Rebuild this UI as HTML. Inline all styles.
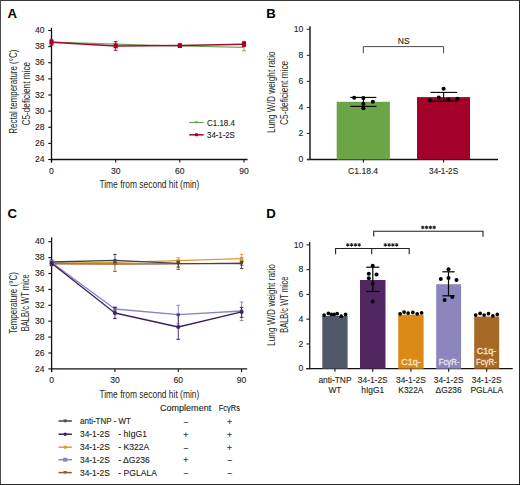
<!DOCTYPE html>
<html><head><meta charset="utf-8"><style>
html,body{margin:0;padding:0;background:#fff;}
#fig{position:relative;width:520px;height:485px;overflow:hidden;background:#fff;}
#frame{position:absolute;left:0;top:0;width:518px;height:483px;border:1px solid #333;border-left-color:#4a4a4a;border-top-color:#3a3a3a;border-right-color:#262626;border-bottom-color:#262626;pointer-events:none;}
svg{position:absolute;left:0;top:0;}
</style></head><body><div id="fig">
<svg width="520" height="485" viewBox="0 0 520 485" font-family='"Liberation Sans", sans-serif'>
<text x="7.60" y="17.80" font-size="13.2" text-anchor="start" fill="#000" font-weight="bold" >A</text>
<line x1="51.50" y1="27.70" x2="51.50" y2="162.50" stroke="#111" stroke-width="1.3" />
<line x1="50.90" y1="159.50" x2="247.60" y2="159.50" stroke="#111" stroke-width="1.3" />
<line x1="48.20" y1="159.50" x2="51.50" y2="159.50" stroke="#111" stroke-width="1.1" />
<text x="44.60" y="162.10" font-size="8.6" text-anchor="end" fill="#231f20" stroke="#231f20" stroke-width="0.12" >24</text>
<line x1="48.20" y1="143.38" x2="51.50" y2="143.38" stroke="#111" stroke-width="1.1" />
<text x="44.60" y="145.97" font-size="8.6" text-anchor="end" fill="#231f20" stroke="#231f20" stroke-width="0.12" >26</text>
<line x1="48.20" y1="127.25" x2="51.50" y2="127.25" stroke="#111" stroke-width="1.1" />
<text x="44.60" y="129.85" font-size="8.6" text-anchor="end" fill="#231f20" stroke="#231f20" stroke-width="0.12" >28</text>
<line x1="48.20" y1="111.12" x2="51.50" y2="111.12" stroke="#111" stroke-width="1.1" />
<text x="44.60" y="113.72" font-size="8.6" text-anchor="end" fill="#231f20" stroke="#231f20" stroke-width="0.12" >30</text>
<line x1="48.20" y1="95.00" x2="51.50" y2="95.00" stroke="#111" stroke-width="1.1" />
<text x="44.60" y="97.60" font-size="8.6" text-anchor="end" fill="#231f20" stroke="#231f20" stroke-width="0.12" >32</text>
<line x1="48.20" y1="78.88" x2="51.50" y2="78.88" stroke="#111" stroke-width="1.1" />
<text x="44.60" y="81.47" font-size="8.6" text-anchor="end" fill="#231f20" stroke="#231f20" stroke-width="0.12" >34</text>
<line x1="48.20" y1="62.75" x2="51.50" y2="62.75" stroke="#111" stroke-width="1.1" />
<text x="44.60" y="65.35" font-size="8.6" text-anchor="end" fill="#231f20" stroke="#231f20" stroke-width="0.12" >36</text>
<line x1="48.20" y1="46.62" x2="51.50" y2="46.62" stroke="#111" stroke-width="1.1" />
<text x="44.60" y="49.23" font-size="8.6" text-anchor="end" fill="#231f20" stroke="#231f20" stroke-width="0.12" >38</text>
<line x1="48.20" y1="30.50" x2="51.50" y2="30.50" stroke="#111" stroke-width="1.1" />
<text x="44.60" y="33.10" font-size="8.6" text-anchor="end" fill="#231f20" stroke="#231f20" stroke-width="0.12" >40</text>
<line x1="51.50" y1="159.50" x2="51.50" y2="162.50" stroke="#111" stroke-width="1.1" />
<text x="51.50" y="173.60" font-size="8.6" text-anchor="middle" fill="#231f20" stroke="#231f20" stroke-width="0.12" >0</text>
<line x1="115.67" y1="159.50" x2="115.67" y2="162.50" stroke="#111" stroke-width="1.1" />
<text x="115.67" y="173.60" font-size="8.6" text-anchor="middle" fill="#231f20" stroke="#231f20" stroke-width="0.12" >30</text>
<line x1="179.83" y1="159.50" x2="179.83" y2="162.50" stroke="#111" stroke-width="1.1" />
<text x="179.83" y="173.60" font-size="8.6" text-anchor="middle" fill="#231f20" stroke="#231f20" stroke-width="0.12" >60</text>
<line x1="244.00" y1="159.50" x2="244.00" y2="162.50" stroke="#111" stroke-width="1.1" />
<text x="244.00" y="173.60" font-size="8.6" text-anchor="middle" fill="#231f20" stroke="#231f20" stroke-width="0.12" >90</text>
<text x="99.40" y="188.30" font-size="10.2" text-anchor="start" fill="#231f20" textLength="99.90" lengthAdjust="spacingAndGlyphs" >Time from second hit (min)</text>
<text x="17.30" y="133.70" font-size="11.2" text-anchor="start" fill="#231f20" textLength="84.00" lengthAdjust="spacingAndGlyphs" transform="rotate(-90 17.30 133.70)" >Rectal temperature (°C)</text>
<text x="29.60" y="125.50" font-size="11.2" text-anchor="start" fill="#231f20" textLength="63.70" lengthAdjust="spacingAndGlyphs" transform="rotate(-90 29.60 125.50)" >C5-deficient mice</text>
<polyline points="51.50,42.00 115.67,44.20 179.83,46.00 244.00,47.30" fill="none" stroke="#6ea656" stroke-width="1.2" stroke-linejoin="round"/>
<line x1="51.50" y1="40.50" x2="51.50" y2="43.50" stroke="#6ea656" stroke-width="0.9" />
<line x1="49.70" y1="40.50" x2="53.30" y2="40.50" stroke="#6ea656" stroke-width="0.9" />
<line x1="49.70" y1="43.50" x2="53.30" y2="43.50" stroke="#6ea656" stroke-width="0.9" />
<line x1="115.67" y1="43.00" x2="115.67" y2="45.40" stroke="#6ea656" stroke-width="0.9" />
<line x1="113.87" y1="43.00" x2="117.47" y2="43.00" stroke="#6ea656" stroke-width="0.9" />
<line x1="113.87" y1="45.40" x2="117.47" y2="45.40" stroke="#6ea656" stroke-width="0.9" />
<line x1="179.83" y1="45.20" x2="179.83" y2="46.80" stroke="#6ea656" stroke-width="0.9" />
<line x1="178.03" y1="45.20" x2="181.63" y2="45.20" stroke="#6ea656" stroke-width="0.9" />
<line x1="178.03" y1="46.80" x2="181.63" y2="46.80" stroke="#6ea656" stroke-width="0.9" />
<line x1="244.00" y1="45.70" x2="244.00" y2="50.80" stroke="#6ea656" stroke-width="0.9" />
<line x1="242.20" y1="45.70" x2="245.80" y2="45.70" stroke="#6ea656" stroke-width="0.9" />
<line x1="242.20" y1="50.80" x2="245.80" y2="50.80" stroke="#6ea656" stroke-width="0.9" />
<polyline points="51.50,42.30 115.67,45.90 179.83,45.60 244.00,44.20" fill="none" stroke="#9e0a2c" stroke-width="1.5" stroke-linejoin="round"/>
<line x1="51.50" y1="39.30" x2="51.50" y2="45.30" stroke="#a5002a" stroke-width="0.9" />
<line x1="49.70" y1="39.30" x2="53.30" y2="39.30" stroke="#a5002a" stroke-width="0.9" />
<line x1="49.70" y1="45.30" x2="53.30" y2="45.30" stroke="#a5002a" stroke-width="0.9" />
<line x1="115.67" y1="41.50" x2="115.67" y2="50.40" stroke="#a5002a" stroke-width="0.9" />
<line x1="113.87" y1="41.50" x2="117.47" y2="41.50" stroke="#a5002a" stroke-width="0.9" />
<line x1="113.87" y1="50.40" x2="117.47" y2="50.40" stroke="#a5002a" stroke-width="0.9" />
<line x1="179.83" y1="44.30" x2="179.83" y2="46.90" stroke="#a5002a" stroke-width="0.9" />
<line x1="178.03" y1="44.30" x2="181.63" y2="44.30" stroke="#a5002a" stroke-width="0.9" />
<line x1="178.03" y1="46.90" x2="181.63" y2="46.90" stroke="#a5002a" stroke-width="0.9" />
<line x1="244.00" y1="41.40" x2="244.00" y2="46.40" stroke="#a5002a" stroke-width="0.9" />
<line x1="242.20" y1="41.40" x2="245.80" y2="41.40" stroke="#a5002a" stroke-width="0.9" />
<line x1="242.20" y1="46.40" x2="245.80" y2="46.40" stroke="#a5002a" stroke-width="0.9" />
<rect x="49.40" y="39.90" width="4.20" height="4.80" fill="#a5002a"/>
<rect x="113.57" y="43.50" width="4.20" height="4.80" fill="#a5002a"/>
<rect x="177.73" y="43.20" width="4.20" height="4.80" fill="#a5002a"/>
<rect x="241.90" y="41.80" width="4.20" height="4.80" fill="#a5002a"/>
<line x1="189.20" y1="122.50" x2="203.70" y2="122.50" stroke="#6ea656" stroke-width="1.3" />
<path d="M194.8,121.3 L198.2,121.3 L196.5,123.8 Z" fill="#6ea656"/>
<text x="207.10" y="125.70" font-size="8.6" text-anchor="start" fill="#231f20" textLength="27.70" lengthAdjust="spacingAndGlyphs" stroke="#231f20" stroke-width="0.12" >C1.18.4</text>
<line x1="189.20" y1="134.80" x2="203.70" y2="134.80" stroke="#a5002a" stroke-width="1.5" />
<circle cx="196.50" cy="134.80" r="1.8" fill="#a5002a"/>
<text x="207.10" y="138.00" font-size="8.6" text-anchor="start" fill="#231f20" textLength="27.70" lengthAdjust="spacingAndGlyphs" stroke="#231f20" stroke-width="0.12" >34-1-2S</text>
<text x="266.30" y="17.90" font-size="13.2" text-anchor="start" fill="#000" font-weight="bold" >B</text>
<line x1="310.00" y1="26.20" x2="310.00" y2="159.50" stroke="#3a3a3a" stroke-width="1.7" />
<line x1="307.00" y1="159.50" x2="498.00" y2="159.50" stroke="#111" stroke-width="1.3" />
<line x1="306.80" y1="159.50" x2="310.00" y2="159.50" stroke="#333" stroke-width="1.1" />
<text x="303.40" y="162.10" font-size="8.6" text-anchor="end" fill="#231f20" stroke="#231f20" stroke-width="0.12" >0</text>
<line x1="306.80" y1="133.46" x2="310.00" y2="133.46" stroke="#333" stroke-width="1.1" />
<text x="303.40" y="136.06" font-size="8.6" text-anchor="end" fill="#231f20" stroke="#231f20" stroke-width="0.12" >2</text>
<line x1="306.80" y1="107.42" x2="310.00" y2="107.42" stroke="#333" stroke-width="1.1" />
<text x="303.40" y="110.02" font-size="8.6" text-anchor="end" fill="#231f20" stroke="#231f20" stroke-width="0.12" >4</text>
<line x1="306.80" y1="81.38" x2="310.00" y2="81.38" stroke="#333" stroke-width="1.1" />
<text x="303.40" y="83.98" font-size="8.6" text-anchor="end" fill="#231f20" stroke="#231f20" stroke-width="0.12" >6</text>
<line x1="306.80" y1="55.34" x2="310.00" y2="55.34" stroke="#333" stroke-width="1.1" />
<text x="303.40" y="57.94" font-size="8.6" text-anchor="end" fill="#231f20" stroke="#231f20" stroke-width="0.12" >8</text>
<line x1="306.80" y1="29.30" x2="310.00" y2="29.30" stroke="#333" stroke-width="1.1" />
<text x="303.40" y="31.90" font-size="8.6" text-anchor="end" fill="#231f20" stroke="#231f20" stroke-width="0.12" >10</text>
<rect x="336.70" y="101.80" width="53.20" height="57.70" fill="#6ba545"/>
<rect x="417.00" y="97.10" width="53.00" height="62.40" fill="#a5002a"/>
<line x1="363.40" y1="159.50" x2="363.40" y2="162.50" stroke="#111" stroke-width="1.1" />
<line x1="443.60" y1="159.50" x2="443.60" y2="162.50" stroke="#111" stroke-width="1.1" />
<text x="363.10" y="173.60" font-size="8.6" text-anchor="middle" fill="#231f20" textLength="30.00" lengthAdjust="spacingAndGlyphs" stroke="#231f20" stroke-width="0.12" >C1.18.4</text>
<text x="443.60" y="173.60" font-size="8.6" text-anchor="middle" fill="#231f20" textLength="29.00" lengthAdjust="spacingAndGlyphs" stroke="#231f20" stroke-width="0.12" >34-1-2S</text>
<path d="M363.3,53.2 V46.6 H443.6 V53.2" fill="none" stroke="#333" stroke-width="0.9"/>
<text x="403.70" y="43.70" font-size="8.6" text-anchor="middle" fill="#231f20" stroke="#231f20" stroke-width="0.12" >NS</text>
<line x1="363.40" y1="97.40" x2="363.40" y2="106.40" stroke="#000" stroke-width="1.1" />
<line x1="350.20" y1="97.40" x2="376.40" y2="97.40" stroke="#000" stroke-width="1.1" />
<line x1="350.20" y1="106.40" x2="376.40" y2="106.40" stroke="#000" stroke-width="1.1" />
<circle cx="354.20" cy="97.80" r="2.05" fill="#000"/>
<circle cx="363.40" cy="98.10" r="2.05" fill="#000"/>
<circle cx="372.80" cy="101.80" r="2.05" fill="#000"/>
<circle cx="363.40" cy="103.90" r="2.05" fill="#000"/>
<circle cx="363.40" cy="108.20" r="2.05" fill="#000"/>
<line x1="443.60" y1="92.40" x2="443.60" y2="101.10" stroke="#000" stroke-width="1.1" />
<line x1="430.50" y1="92.40" x2="457.10" y2="92.40" stroke="#000" stroke-width="1.1" />
<line x1="430.50" y1="101.10" x2="457.10" y2="101.10" stroke="#000" stroke-width="1.1" />
<circle cx="443.60" cy="88.70" r="2.05" fill="#000"/>
<circle cx="429.90" cy="100.20" r="2.05" fill="#000"/>
<circle cx="438.70" cy="97.50" r="2.05" fill="#000"/>
<circle cx="448.40" cy="99.50" r="2.05" fill="#000"/>
<circle cx="457.40" cy="98.80" r="2.05" fill="#000"/>
<text x="275.10" y="132.90" font-size="11.2" text-anchor="start" fill="#231f20" textLength="81.50" lengthAdjust="spacingAndGlyphs" transform="rotate(-90 275.10 132.90)" >Lung W/D weight ratio</text>
<text x="287.90" y="124.90" font-size="11.2" text-anchor="start" fill="#231f20" textLength="64.10" lengthAdjust="spacingAndGlyphs" transform="rotate(-90 287.90 124.90)" >C5-deficient mice</text>
<text x="7.60" y="218.10" font-size="13.2" text-anchor="start" fill="#000" font-weight="bold" >C</text>
<line x1="51.60" y1="237.40" x2="51.60" y2="371.90" stroke="#111" stroke-width="1.3" />
<line x1="51.00" y1="368.90" x2="247.20" y2="368.90" stroke="#111" stroke-width="1.3" />
<line x1="48.30" y1="368.90" x2="51.60" y2="368.90" stroke="#111" stroke-width="1.1" />
<text x="44.60" y="371.50" font-size="8.6" text-anchor="end" fill="#231f20" stroke="#231f20" stroke-width="0.12" >24</text>
<line x1="48.30" y1="353.00" x2="51.60" y2="353.00" stroke="#111" stroke-width="1.1" />
<text x="44.60" y="355.60" font-size="8.6" text-anchor="end" fill="#231f20" stroke="#231f20" stroke-width="0.12" >26</text>
<line x1="48.30" y1="337.10" x2="51.60" y2="337.10" stroke="#111" stroke-width="1.1" />
<text x="44.60" y="339.70" font-size="8.6" text-anchor="end" fill="#231f20" stroke="#231f20" stroke-width="0.12" >28</text>
<line x1="48.30" y1="321.20" x2="51.60" y2="321.20" stroke="#111" stroke-width="1.1" />
<text x="44.60" y="323.80" font-size="8.6" text-anchor="end" fill="#231f20" stroke="#231f20" stroke-width="0.12" >30</text>
<line x1="48.30" y1="305.30" x2="51.60" y2="305.30" stroke="#111" stroke-width="1.1" />
<text x="44.60" y="307.90" font-size="8.6" text-anchor="end" fill="#231f20" stroke="#231f20" stroke-width="0.12" >32</text>
<line x1="48.30" y1="289.40" x2="51.60" y2="289.40" stroke="#111" stroke-width="1.1" />
<text x="44.60" y="292.00" font-size="8.6" text-anchor="end" fill="#231f20" stroke="#231f20" stroke-width="0.12" >34</text>
<line x1="48.30" y1="273.50" x2="51.60" y2="273.50" stroke="#111" stroke-width="1.1" />
<text x="44.60" y="276.10" font-size="8.6" text-anchor="end" fill="#231f20" stroke="#231f20" stroke-width="0.12" >36</text>
<line x1="48.30" y1="257.60" x2="51.60" y2="257.60" stroke="#111" stroke-width="1.1" />
<text x="44.60" y="260.20" font-size="8.6" text-anchor="end" fill="#231f20" stroke="#231f20" stroke-width="0.12" >38</text>
<line x1="48.30" y1="241.70" x2="51.60" y2="241.70" stroke="#111" stroke-width="1.1" />
<text x="44.60" y="244.30" font-size="8.6" text-anchor="end" fill="#231f20" stroke="#231f20" stroke-width="0.12" >40</text>
<line x1="51.60" y1="368.90" x2="51.60" y2="371.90" stroke="#111" stroke-width="1.1" />
<text x="51.60" y="382.60" font-size="8.6" text-anchor="middle" fill="#231f20" stroke="#231f20" stroke-width="0.12" >0</text>
<line x1="114.93" y1="368.90" x2="114.93" y2="371.90" stroke="#111" stroke-width="1.1" />
<text x="114.93" y="382.60" font-size="8.6" text-anchor="middle" fill="#231f20" stroke="#231f20" stroke-width="0.12" >30</text>
<line x1="178.27" y1="368.90" x2="178.27" y2="371.90" stroke="#111" stroke-width="1.1" />
<text x="178.27" y="382.60" font-size="8.6" text-anchor="middle" fill="#231f20" stroke="#231f20" stroke-width="0.12" >60</text>
<line x1="241.60" y1="368.90" x2="241.60" y2="371.90" stroke="#111" stroke-width="1.1" />
<text x="241.60" y="382.60" font-size="8.6" text-anchor="middle" fill="#231f20" stroke="#231f20" stroke-width="0.12" >90</text>
<text x="99.40" y="397.50" font-size="10.2" text-anchor="start" fill="#231f20" textLength="99.90" lengthAdjust="spacingAndGlyphs" >Time from second hit (min)</text>
<text x="16.80" y="333.80" font-size="11.2" text-anchor="start" fill="#231f20" textLength="61.70" lengthAdjust="spacingAndGlyphs" transform="rotate(-90 16.80 333.80)" >Temperature (°C)</text>
<text x="29.20" y="331.30" font-size="11.2" text-anchor="start" fill="#231f20" textLength="57.00" lengthAdjust="spacingAndGlyphs" transform="rotate(-90 29.20 331.30)" >BALB/c WT mice</text>
<polyline points="51.60,263.20 114.93,262.40 178.27,260.70 241.60,258.60" fill="none" stroke="#e09a30" stroke-width="1.3" stroke-linejoin="round"/>
<line x1="51.60" y1="261.20" x2="51.60" y2="265.20" stroke="#e09a30" stroke-width="0.9" />
<line x1="49.80" y1="261.20" x2="53.40" y2="261.20" stroke="#e09a30" stroke-width="1.0" />
<line x1="49.80" y1="265.20" x2="53.40" y2="265.20" stroke="#e09a30" stroke-width="1.0" />
<line x1="114.93" y1="260.40" x2="114.93" y2="264.40" stroke="#e09a30" stroke-width="0.9" />
<line x1="113.13" y1="260.40" x2="116.73" y2="260.40" stroke="#e09a30" stroke-width="1.0" />
<line x1="113.13" y1="264.40" x2="116.73" y2="264.40" stroke="#e09a30" stroke-width="1.0" />
<line x1="178.27" y1="257.70" x2="178.27" y2="262.70" stroke="#e09a30" stroke-width="0.9" />
<line x1="176.47" y1="257.70" x2="180.07" y2="257.70" stroke="#e09a30" stroke-width="1.0" />
<line x1="176.47" y1="262.70" x2="180.07" y2="262.70" stroke="#e09a30" stroke-width="1.0" />
<line x1="241.60" y1="254.30" x2="241.60" y2="260.60" stroke="#e09a30" stroke-width="0.9" />
<line x1="239.80" y1="254.30" x2="243.40" y2="254.30" stroke="#e09a30" stroke-width="1.0" />
<line x1="239.80" y1="260.60" x2="243.40" y2="260.60" stroke="#e09a30" stroke-width="1.0" />
<rect x="49.90" y="261.50" width="3.40" height="3.40" fill="#e09a30"/>
<rect x="113.23" y="260.70" width="3.40" height="3.40" fill="#e09a30"/>
<rect x="176.57" y="259.00" width="3.40" height="3.40" fill="#e09a30"/>
<rect x="239.90" y="256.90" width="3.40" height="3.40" fill="#e09a30"/>
<polyline points="51.60,263.80 114.93,264.00 178.27,263.80 241.60,263.20" fill="none" stroke="#93602a" stroke-width="1.3" stroke-linejoin="round"/>
<line x1="51.60" y1="261.80" x2="51.60" y2="265.80" stroke="#93602a" stroke-width="0.9" />
<line x1="49.80" y1="261.80" x2="53.40" y2="261.80" stroke="#93602a" stroke-width="1.0" />
<line x1="49.80" y1="265.80" x2="53.40" y2="265.80" stroke="#93602a" stroke-width="1.0" />
<line x1="114.93" y1="262.00" x2="114.93" y2="271.40" stroke="#93602a" stroke-width="0.9" />
<line x1="113.13" y1="262.00" x2="116.73" y2="262.00" stroke="#93602a" stroke-width="1.0" />
<line x1="113.13" y1="271.40" x2="116.73" y2="271.40" stroke="#93602a" stroke-width="1.0" />
<line x1="178.27" y1="261.80" x2="178.27" y2="269.40" stroke="#93602a" stroke-width="0.9" />
<line x1="176.47" y1="261.80" x2="180.07" y2="261.80" stroke="#93602a" stroke-width="1.0" />
<line x1="176.47" y1="269.40" x2="180.07" y2="269.40" stroke="#93602a" stroke-width="1.0" />
<line x1="241.60" y1="261.20" x2="241.60" y2="265.20" stroke="#93602a" stroke-width="0.9" />
<line x1="239.80" y1="261.20" x2="243.40" y2="261.20" stroke="#93602a" stroke-width="1.0" />
<line x1="239.80" y1="265.20" x2="243.40" y2="265.20" stroke="#93602a" stroke-width="1.0" />
<path d="M49.80,262.60 L53.40,262.60 L51.60,265.60 Z" fill="#93602a"/>
<path d="M113.13,262.80 L116.73,262.80 L114.93,265.80 Z" fill="#93602a"/>
<path d="M176.47,262.60 L180.07,262.60 L178.27,265.60 Z" fill="#93602a"/>
<path d="M239.80,262.00 L243.40,262.00 L241.60,265.00 Z" fill="#93602a"/>
<polyline points="51.60,262.00 114.93,260.30 178.27,263.30 241.60,263.60" fill="none" stroke="#3e4452" stroke-width="1.3" stroke-linejoin="round"/>
<line x1="51.60" y1="260.00" x2="51.60" y2="264.00" stroke="#3e4452" stroke-width="0.9" />
<line x1="49.80" y1="260.00" x2="53.40" y2="260.00" stroke="#3e4452" stroke-width="1.0" />
<line x1="49.80" y1="264.00" x2="53.40" y2="264.00" stroke="#3e4452" stroke-width="1.0" />
<line x1="114.93" y1="254.40" x2="114.93" y2="262.30" stroke="#3e4452" stroke-width="0.9" />
<line x1="113.13" y1="254.40" x2="116.73" y2="254.40" stroke="#3e4452" stroke-width="1.0" />
<line x1="113.13" y1="262.30" x2="116.73" y2="262.30" stroke="#3e4452" stroke-width="1.0" />
<line x1="178.27" y1="261.30" x2="178.27" y2="267.10" stroke="#3e4452" stroke-width="0.9" />
<line x1="176.47" y1="261.30" x2="180.07" y2="261.30" stroke="#3e4452" stroke-width="1.0" />
<line x1="176.47" y1="267.10" x2="180.07" y2="267.10" stroke="#3e4452" stroke-width="1.0" />
<line x1="241.60" y1="261.60" x2="241.60" y2="268.50" stroke="#3e4452" stroke-width="0.9" />
<line x1="239.80" y1="261.60" x2="243.40" y2="261.60" stroke="#3e4452" stroke-width="1.0" />
<line x1="239.80" y1="268.50" x2="243.40" y2="268.50" stroke="#3e4452" stroke-width="1.0" />
<path d="M49.80,260.80 L53.40,260.80 L51.60,263.80 Z" fill="#3e4452"/>
<path d="M113.13,259.10 L116.73,259.10 L114.93,262.10 Z" fill="#3e4452"/>
<path d="M176.47,262.10 L180.07,262.10 L178.27,265.10 Z" fill="#3e4452"/>
<path d="M239.80,262.40 L243.40,262.40 L241.60,265.40 Z" fill="#3e4452"/>
<polyline points="51.60,262.50 114.93,309.00 178.27,314.60 241.60,311.00" fill="none" stroke="#8a82c2" stroke-width="1.3" stroke-linejoin="round"/>
<line x1="51.60" y1="260.50" x2="51.60" y2="264.50" stroke="#8a82c2" stroke-width="0.9" />
<line x1="49.80" y1="260.50" x2="53.40" y2="260.50" stroke="#8a82c2" stroke-width="1.0" />
<line x1="49.80" y1="264.50" x2="53.40" y2="264.50" stroke="#8a82c2" stroke-width="1.0" />
<line x1="114.93" y1="307.00" x2="114.93" y2="311.00" stroke="#8a82c2" stroke-width="0.9" />
<line x1="113.13" y1="307.00" x2="116.73" y2="307.00" stroke="#8a82c2" stroke-width="1.0" />
<line x1="113.13" y1="311.00" x2="116.73" y2="311.00" stroke="#8a82c2" stroke-width="1.0" />
<line x1="178.27" y1="305.30" x2="178.27" y2="323.90" stroke="#8a82c2" stroke-width="0.9" />
<line x1="176.47" y1="305.30" x2="180.07" y2="305.30" stroke="#8a82c2" stroke-width="1.0" />
<line x1="176.47" y1="323.90" x2="180.07" y2="323.90" stroke="#8a82c2" stroke-width="1.0" />
<line x1="241.60" y1="302.00" x2="241.60" y2="320.60" stroke="#8a82c2" stroke-width="0.9" />
<line x1="239.80" y1="302.00" x2="243.40" y2="302.00" stroke="#8a82c2" stroke-width="1.0" />
<line x1="239.80" y1="320.60" x2="243.40" y2="320.60" stroke="#8a82c2" stroke-width="1.0" />
<rect x="49.90" y="260.80" width="3.40" height="3.40" fill="#8a82c2"/>
<rect x="113.23" y="307.30" width="3.40" height="3.40" fill="#8a82c2"/>
<rect x="176.57" y="312.90" width="3.40" height="3.40" fill="#8a82c2"/>
<rect x="239.90" y="309.30" width="3.40" height="3.40" fill="#8a82c2"/>
<polyline points="51.60,263.30 114.93,313.00 178.27,327.00 241.60,311.90" fill="none" stroke="#3c2162" stroke-width="1.3" stroke-linejoin="round"/>
<line x1="51.60" y1="261.30" x2="51.60" y2="265.30" stroke="#3c2162" stroke-width="0.9" />
<line x1="49.80" y1="261.30" x2="53.40" y2="261.30" stroke="#3c2162" stroke-width="1.0" />
<line x1="49.80" y1="265.30" x2="53.40" y2="265.30" stroke="#3c2162" stroke-width="1.0" />
<line x1="114.93" y1="307.40" x2="114.93" y2="318.60" stroke="#3c2162" stroke-width="0.9" />
<line x1="113.13" y1="307.40" x2="116.73" y2="307.40" stroke="#3c2162" stroke-width="1.0" />
<line x1="113.13" y1="318.60" x2="116.73" y2="318.60" stroke="#3c2162" stroke-width="1.0" />
<line x1="178.27" y1="314.70" x2="178.27" y2="339.30" stroke="#3c2162" stroke-width="0.9" />
<line x1="176.47" y1="314.70" x2="180.07" y2="314.70" stroke="#3c2162" stroke-width="1.0" />
<line x1="176.47" y1="339.30" x2="180.07" y2="339.30" stroke="#3c2162" stroke-width="1.0" />
<line x1="241.60" y1="307.40" x2="241.60" y2="317.30" stroke="#3c2162" stroke-width="0.9" />
<line x1="239.80" y1="307.40" x2="243.40" y2="307.40" stroke="#3c2162" stroke-width="1.0" />
<line x1="239.80" y1="317.30" x2="243.40" y2="317.30" stroke="#3c2162" stroke-width="1.0" />
<circle cx="51.60" cy="263.30" r="2.0" fill="#3c2162"/>
<circle cx="114.93" cy="313.00" r="2.0" fill="#3c2162"/>
<circle cx="178.27" cy="327.00" r="2.0" fill="#3c2162"/>
<circle cx="241.60" cy="311.90" r="2.0" fill="#3c2162"/>
<text x="160.00" y="411.10" font-size="8.4" text-anchor="start" fill="#231f20" textLength="51.20" lengthAdjust="spacingAndGlyphs" stroke="#231f20" stroke-width="0.12" >Complement</text>
<text x="218.80" y="411.10" font-size="8.4" text-anchor="start" fill="#231f20" textLength="21.20" lengthAdjust="spacingAndGlyphs" stroke="#231f20" stroke-width="0.12" >FcγRs</text>
<line x1="58.50" y1="421.00" x2="71.90" y2="421.00" stroke="#3e4452" stroke-width="1.5" />
<path d="M63.3,419.40 L67.1,419.40 L65.2,422.90 Z" fill="#3e4452"/>
<text x="80.00" y="424.20" font-size="8.6" text-anchor="start" fill="#231f20" textLength="51.00" lengthAdjust="spacingAndGlyphs" stroke="#231f20" stroke-width="0.12" >anti-TNP - WT</text>
<text x="185.80" y="424.50" font-size="8.6" text-anchor="middle" fill="#231f20" stroke="#231f20" stroke-width="0.12" >−</text>
<text x="229.40" y="424.50" font-size="8.6" text-anchor="middle" fill="#231f20" stroke="#231f20" stroke-width="0.12" >+</text>
<line x1="58.50" y1="434.20" x2="71.90" y2="434.20" stroke="#3c2162" stroke-width="1.5" />
<circle cx="65.20" cy="434.20" r="1.7" fill="#3c2162"/>
<text x="80.00" y="437.40" font-size="8.6" text-anchor="start" fill="#231f20" textLength="29.80" lengthAdjust="spacingAndGlyphs" stroke="#231f20" stroke-width="0.12" >34-1-2S</text>
<text x="118.30" y="437.40" font-size="8.6" text-anchor="start" fill="#231f20" stroke="#231f20" stroke-width="0.12" >- hIgG1</text>
<text x="185.80" y="437.70" font-size="8.6" text-anchor="middle" fill="#231f20" stroke="#231f20" stroke-width="0.12" >+</text>
<text x="229.40" y="437.70" font-size="8.6" text-anchor="middle" fill="#231f20" stroke="#231f20" stroke-width="0.12" >+</text>
<line x1="58.50" y1="447.20" x2="71.90" y2="447.20" stroke="#e09a30" stroke-width="1.5" />
<circle cx="65.20" cy="447.20" r="1.7" fill="#e09a30"/>
<text x="80.00" y="450.40" font-size="8.6" text-anchor="start" fill="#231f20" textLength="29.80" lengthAdjust="spacingAndGlyphs" stroke="#231f20" stroke-width="0.12" >34-1-2S</text>
<text x="118.30" y="450.40" font-size="8.6" text-anchor="start" fill="#231f20" stroke="#231f20" stroke-width="0.12" >- K322A</text>
<text x="185.80" y="450.70" font-size="8.6" text-anchor="middle" fill="#231f20" stroke="#231f20" stroke-width="0.12" >−</text>
<text x="229.40" y="450.70" font-size="8.6" text-anchor="middle" fill="#231f20" stroke="#231f20" stroke-width="0.12" >+</text>
<line x1="58.50" y1="459.70" x2="71.90" y2="459.70" stroke="#8a82c2" stroke-width="1.5" />
<rect x="63.20" y="457.70" width="4.00" height="4.00" fill="#8a82c2"/>
<text x="80.00" y="462.90" font-size="8.6" text-anchor="start" fill="#231f20" textLength="29.80" lengthAdjust="spacingAndGlyphs" stroke="#231f20" stroke-width="0.12" >34-1-2S</text>
<text x="118.30" y="462.90" font-size="8.6" text-anchor="start" fill="#231f20" stroke="#231f20" stroke-width="0.12" >- ΔG236</text>
<text x="185.80" y="463.20" font-size="8.6" text-anchor="middle" fill="#231f20" stroke="#231f20" stroke-width="0.12" >+</text>
<text x="229.40" y="463.20" font-size="8.6" text-anchor="middle" fill="#231f20" stroke="#231f20" stroke-width="0.12" >−</text>
<line x1="58.50" y1="472.60" x2="71.90" y2="472.60" stroke="#93602a" stroke-width="1.5" />
<path d="M63.3,471.00 L67.1,471.00 L65.2,474.50 Z" fill="#93602a"/>
<text x="80.00" y="475.80" font-size="8.6" text-anchor="start" fill="#231f20" textLength="29.80" lengthAdjust="spacingAndGlyphs" stroke="#231f20" stroke-width="0.12" >34-1-2S</text>
<text x="118.30" y="475.80" font-size="8.6" text-anchor="start" fill="#231f20" stroke="#231f20" stroke-width="0.12" >- PGLALA</text>
<text x="185.80" y="476.10" font-size="8.6" text-anchor="middle" fill="#231f20" stroke="#231f20" stroke-width="0.12" >−</text>
<text x="229.40" y="476.10" font-size="8.6" text-anchor="middle" fill="#231f20" stroke="#231f20" stroke-width="0.12" >−</text>
<text x="266.30" y="217.90" font-size="13.2" text-anchor="start" fill="#000" font-weight="bold" >D</text>
<line x1="309.70" y1="242.00" x2="309.70" y2="368.70" stroke="#222" stroke-width="1.3" />
<line x1="306.30" y1="368.70" x2="512.70" y2="368.70" stroke="#111" stroke-width="1.3" />
<line x1="306.50" y1="368.70" x2="309.70" y2="368.70" stroke="#222" stroke-width="1.1" />
<text x="303.40" y="371.30" font-size="8.6" text-anchor="end" fill="#231f20" stroke="#231f20" stroke-width="0.12" >0</text>
<line x1="306.50" y1="343.94" x2="309.70" y2="343.94" stroke="#222" stroke-width="1.1" />
<text x="303.40" y="346.54" font-size="8.6" text-anchor="end" fill="#231f20" stroke="#231f20" stroke-width="0.12" >2</text>
<line x1="306.50" y1="319.18" x2="309.70" y2="319.18" stroke="#222" stroke-width="1.1" />
<text x="303.40" y="321.78" font-size="8.6" text-anchor="end" fill="#231f20" stroke="#231f20" stroke-width="0.12" >4</text>
<line x1="306.50" y1="294.42" x2="309.70" y2="294.42" stroke="#222" stroke-width="1.1" />
<text x="303.40" y="297.02" font-size="8.6" text-anchor="end" fill="#231f20" stroke="#231f20" stroke-width="0.12" >6</text>
<line x1="306.50" y1="269.66" x2="309.70" y2="269.66" stroke="#222" stroke-width="1.1" />
<text x="303.40" y="272.26" font-size="8.6" text-anchor="end" fill="#231f20" stroke="#231f20" stroke-width="0.12" >8</text>
<line x1="306.50" y1="244.90" x2="309.70" y2="244.90" stroke="#222" stroke-width="1.1" />
<text x="303.40" y="247.50" font-size="8.6" text-anchor="end" fill="#231f20" stroke="#231f20" stroke-width="0.12" >10</text>
<rect x="322.30" y="316.00" width="25.30" height="52.70" fill="#515869"/>
<rect x="360.00" y="280.00" width="25.50" height="88.70" fill="#522660"/>
<rect x="398.20" y="314.60" width="25.40" height="54.10" fill="#dc8a17"/>
<rect x="436.20" y="284.20" width="24.90" height="84.50" fill="#8c86bc"/>
<rect x="474.20" y="316.60" width="25.00" height="52.10" fill="#a76a26"/>
<line x1="334.95" y1="368.70" x2="334.95" y2="371.70" stroke="#111" stroke-width="1.1" />
<line x1="372.75" y1="368.70" x2="372.75" y2="371.70" stroke="#111" stroke-width="1.1" />
<line x1="410.90" y1="368.70" x2="410.90" y2="371.70" stroke="#111" stroke-width="1.1" />
<line x1="448.65" y1="368.70" x2="448.65" y2="371.70" stroke="#111" stroke-width="1.1" />
<line x1="486.70" y1="368.70" x2="486.70" y2="371.70" stroke="#111" stroke-width="1.1" />
<text x="334.95" y="383.40" font-size="8.4" text-anchor="middle" fill="#231f20" stroke="#231f20" stroke-width="0.12" >anti-TNP</text>
<text x="334.95" y="393.40" font-size="8.4" text-anchor="middle" fill="#231f20" stroke="#231f20" stroke-width="0.12" >WT</text>
<text x="372.75" y="383.40" font-size="8.4" text-anchor="middle" fill="#231f20" stroke="#231f20" stroke-width="0.12" >34-1-2S</text>
<text x="372.75" y="393.40" font-size="8.4" text-anchor="middle" fill="#231f20" stroke="#231f20" stroke-width="0.12" >hIgG1</text>
<text x="410.90" y="383.40" font-size="8.4" text-anchor="middle" fill="#231f20" stroke="#231f20" stroke-width="0.12" >34-1-2S</text>
<text x="410.90" y="393.40" font-size="8.4" text-anchor="middle" fill="#231f20" stroke="#231f20" stroke-width="0.12" >K322A</text>
<text x="448.65" y="383.40" font-size="8.4" text-anchor="middle" fill="#231f20" stroke="#231f20" stroke-width="0.12" >34-1-2S</text>
<text x="448.65" y="393.40" font-size="8.4" text-anchor="middle" fill="#231f20" stroke="#231f20" stroke-width="0.12" >ΔG236</text>
<text x="486.70" y="383.40" font-size="8.4" text-anchor="middle" fill="#231f20" stroke="#231f20" stroke-width="0.12" >34-1-2S</text>
<text x="486.70" y="393.40" font-size="8.4" text-anchor="middle" fill="#231f20" stroke="#231f20" stroke-width="0.12" >PGLALA</text>
<path d="M335.6,254.2 V248.5 H409.2 V254.2 M371.7,248.5 V254.2" fill="none" stroke="#222" stroke-width="1.1"/>
<path d="M373.7,236.6 V231.3 H483.0 V236.8" fill="none" stroke="#222" stroke-width="1.1"/>
<path d="M347.80,243.45 L347.80,246.15 M348.97,244.12 L346.63,245.47 M348.97,245.47 L346.63,244.12 " stroke="#222" stroke-width="1.05" stroke-linecap="round"/>
<path d="M351.60,243.45 L351.60,246.15 M352.77,244.12 L350.43,245.47 M352.77,245.47 L350.43,244.12 " stroke="#222" stroke-width="1.05" stroke-linecap="round"/>
<path d="M355.40,243.45 L355.40,246.15 M356.57,244.12 L354.23,245.47 M356.57,245.47 L354.23,244.12 " stroke="#222" stroke-width="1.05" stroke-linecap="round"/>
<path d="M359.20,243.45 L359.20,246.15 M360.37,244.12 L358.03,245.47 M360.37,245.47 L358.03,244.12 " stroke="#222" stroke-width="1.05" stroke-linecap="round"/>
<path d="M385.30,243.45 L385.30,246.15 M386.47,244.12 L384.13,245.47 M386.47,245.47 L384.13,244.12 " stroke="#222" stroke-width="1.05" stroke-linecap="round"/>
<path d="M389.10,243.45 L389.10,246.15 M390.27,244.12 L387.93,245.47 M390.27,245.47 L387.93,244.12 " stroke="#222" stroke-width="1.05" stroke-linecap="round"/>
<path d="M392.90,243.45 L392.90,246.15 M394.07,244.12 L391.73,245.47 M394.07,245.47 L391.73,244.12 " stroke="#222" stroke-width="1.05" stroke-linecap="round"/>
<path d="M396.70,243.45 L396.70,246.15 M397.87,244.12 L395.53,245.47 M397.87,245.47 L395.53,244.12 " stroke="#222" stroke-width="1.05" stroke-linecap="round"/>
<path d="M422.80,226.05 L422.80,228.75 M423.97,226.72 L421.63,228.07 M423.97,228.07 L421.63,226.72 " stroke="#222" stroke-width="1.05" stroke-linecap="round"/>
<path d="M426.60,226.05 L426.60,228.75 M427.77,226.72 L425.43,228.07 M427.77,228.07 L425.43,226.72 " stroke="#222" stroke-width="1.05" stroke-linecap="round"/>
<path d="M430.40,226.05 L430.40,228.75 M431.57,226.72 L429.23,228.07 M431.57,228.07 L429.23,226.72 " stroke="#222" stroke-width="1.05" stroke-linecap="round"/>
<path d="M434.20,226.05 L434.20,228.75 M435.37,226.72 L433.03,228.07 M435.37,228.07 L433.03,226.72 " stroke="#222" stroke-width="1.05" stroke-linecap="round"/>
<line x1="372.80" y1="267.20" x2="372.80" y2="291.50" stroke="#000" stroke-width="1.2" />
<line x1="366.30" y1="267.20" x2="379.30" y2="267.20" stroke="#000" stroke-width="1.2" />
<line x1="366.30" y1="291.50" x2="379.30" y2="291.50" stroke="#000" stroke-width="1.2" />
<line x1="448.50" y1="271.80" x2="448.50" y2="295.80" stroke="#000" stroke-width="1.2" />
<line x1="442.35" y1="271.80" x2="454.65" y2="271.80" stroke="#000" stroke-width="1.2" />
<line x1="442.35" y1="295.80" x2="454.65" y2="295.80" stroke="#000" stroke-width="1.2" />
<circle cx="372.70" cy="265.70" r="2.0" fill="#000"/>
<circle cx="368.80" cy="273.80" r="2.0" fill="#000"/>
<circle cx="376.50" cy="274.60" r="2.0" fill="#000"/>
<circle cx="368.80" cy="278.20" r="2.0" fill="#000"/>
<circle cx="372.70" cy="283.50" r="2.0" fill="#000"/>
<circle cx="372.70" cy="301.50" r="2.0" fill="#000"/>
<circle cx="448.50" cy="269.20" r="2.0" fill="#000"/>
<circle cx="440.80" cy="278.90" r="2.0" fill="#000"/>
<circle cx="448.50" cy="278.00" r="2.0" fill="#000"/>
<circle cx="456.50" cy="280.00" r="2.0" fill="#000"/>
<circle cx="444.60" cy="300.00" r="2.0" fill="#000"/>
<circle cx="452.30" cy="296.90" r="2.0" fill="#000"/>
<circle cx="324.10" cy="315.10" r="1.85" fill="#000"/>
<circle cx="328.40" cy="313.40" r="1.85" fill="#000"/>
<circle cx="331.30" cy="314.40" r="1.85" fill="#000"/>
<circle cx="334.20" cy="314.40" r="1.85" fill="#000"/>
<circle cx="337.20" cy="313.70" r="1.85" fill="#000"/>
<circle cx="341.20" cy="316.20" r="1.85" fill="#000"/>
<circle cx="345.60" cy="314.40" r="1.85" fill="#000"/>
<circle cx="400.10" cy="313.80" r="1.85" fill="#000"/>
<circle cx="404.10" cy="312.10" r="1.85" fill="#000"/>
<circle cx="408.10" cy="313.10" r="1.85" fill="#000"/>
<circle cx="412.80" cy="312.40" r="1.85" fill="#000"/>
<circle cx="417.20" cy="313.80" r="1.85" fill="#000"/>
<circle cx="421.60" cy="312.80" r="1.85" fill="#000"/>
<circle cx="475.70" cy="315.10" r="1.85" fill="#000"/>
<circle cx="480.10" cy="313.40" r="1.85" fill="#000"/>
<circle cx="484.10" cy="315.10" r="1.85" fill="#000"/>
<circle cx="488.50" cy="313.70" r="1.85" fill="#000"/>
<circle cx="492.90" cy="315.80" r="1.85" fill="#000"/>
<circle cx="497.30" cy="314.40" r="1.85" fill="#000"/>
<text x="411.10" y="364.80" font-size="9.2" text-anchor="middle" fill="#f6e6d0" textLength="19.50" lengthAdjust="spacingAndGlyphs" stroke="#f6e6d0" stroke-width="0.3">C1q-</text>
<text x="449.00" y="364.60" font-size="9.2" text-anchor="middle" fill="#ece8f6" textLength="20.50" lengthAdjust="spacingAndGlyphs" stroke="#ece8f6" stroke-width="0.3">FcγR-</text>
<text x="486.60" y="354.40" font-size="9.2" text-anchor="middle" fill="#f6e6d0" textLength="19.50" lengthAdjust="spacingAndGlyphs" stroke="#f6e6d0" stroke-width="0.3">C1q-</text>
<text x="486.30" y="364.80" font-size="9.2" text-anchor="middle" fill="#f6e6d0" textLength="20.50" lengthAdjust="spacingAndGlyphs" stroke="#f6e6d0" stroke-width="0.3">FcγR-</text>
<text x="275.00" y="345.90" font-size="11.2" text-anchor="start" fill="#231f20" textLength="81.80" lengthAdjust="spacingAndGlyphs" transform="rotate(-90 275.00 345.90)" >Lung W/D weight ratio</text>
<text x="287.90" y="332.80" font-size="11.2" text-anchor="start" fill="#231f20" textLength="56.30" lengthAdjust="spacingAndGlyphs" transform="rotate(-90 287.90 332.80)" >BALB/c WT mice</text>
</svg><div id="frame"></div></div></body></html>
